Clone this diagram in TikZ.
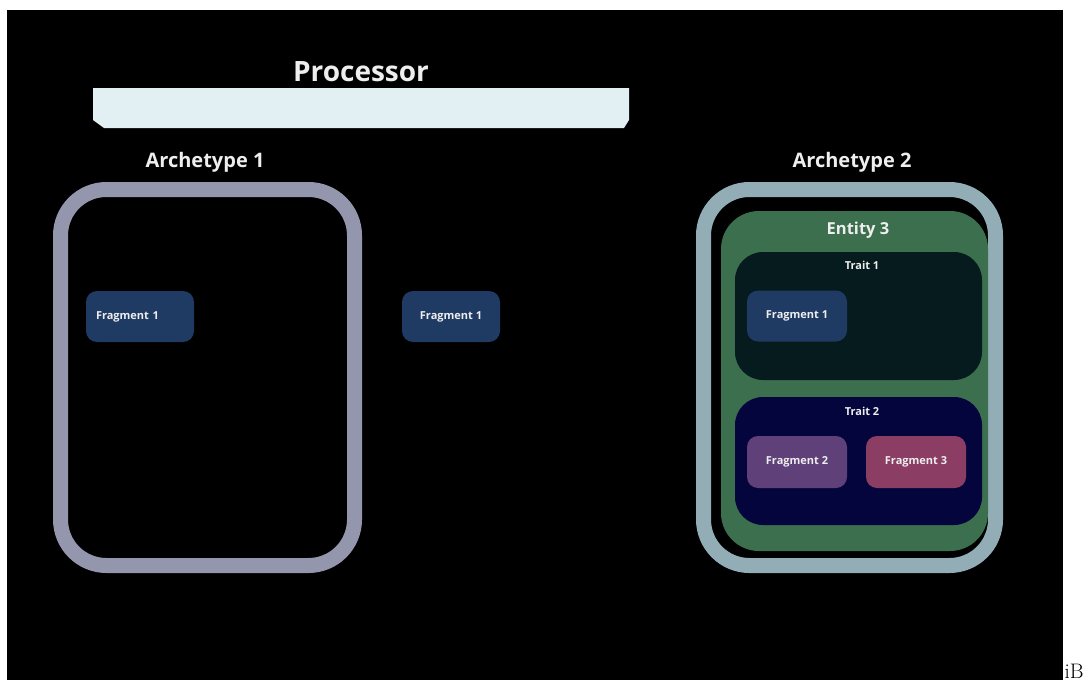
\documentclass[tikz,border=0pt]{standalone}
\usepackage{fontspec}
\setsansfont{Open Sans}
\usetikzlibrary{positioning}

\definecolor{bgblack}{HTML}{000000}
\definecolor{procfill}{HTML}{E2EFF3}
\definecolor{archA}{HTML}{9496AE}
\definecolor{archB}{HTML}{93ADB7}
\definecolor{entgreen}{HTML}{3B6F4E}
\definecolor{traitA}{HTML}{051B1D}
\definecolor{traitB}{HTML}{05053E}
\definecolor{fragblue}{HTML}{1F3B64}
\definecolor{fragpurple}{HTML}{5F4079}
\definecolor{fragrose}{HTML}{8B3D64}
\definecolor{txt}{HTML}{EEEEEE}

\tikzset{
  title/.style={text=txt, font=\sffamily\bfseries\fontsize{28}{31}\selectfont, inner sep=0pt},
  archlabel/.style={text=txt, font=\sffamily\bfseries\fontsize{20}{23}\selectfont, inner sep=0pt},
  entlabel/.style={text=txt, font=\sffamily\bfseries\fontsize{16.5}{19}\selectfont, inner sep=0pt},
  traitlabel/.style={text=txt, font=\sffamily\bfseries\fontsize{11}{13}\selectfont, inner sep=0pt},
  archbox/.style={draw, line width=15pt, rounded corners=46pt, fill=none},
  fragbox/.style={rounded corners=11pt, minimum height=51pt, inner sep=0pt,
    text=txt, font=\sffamily\bfseries\fontsize{11}{13}\selectfont},
}

\begin{document}
\begin{tikzpicture}[x=1pt,y=-1pt]
  \useasboundingbox (0,0) rectangle (1088,680);
  % black backdrop
  \fill[bgblack] (7,10) rectangle (1063,680);

  % processor bar with chamfered lower corners
  \fill[procfill] (93,88) -- (629,88) -- (629,120) -- (624,128) -- (104,128) -- (93,120) -- cycle;
  \node[title] (proc) at (361,72) {Processor};

  % archetype 1
  \draw[archbox, archA] (60.5,189.5) rectangle (354.5,565.5);
  \node[archlabel] (arch1) at (205,162) {Archetype 1};
  \node[fragbox, fill=fragblue, minimum width=108pt, text width=88pt, inner xsep=10pt, align=left]
    (fragA) at (140,316.5) {Fragment 1};

  % loose fragment between the archetypes
  \node[fragbox, fill=fragblue, minimum width=98pt] (fragB) at (451,316.5) {Fragment 1};

  % archetype 2 with entity 3 and its traits
  \draw[archbox, archB] (703.5,189.5) rectangle (995.5,565.5);
  \node[archlabel] (arch2) at (852,162) {Archetype 2};
  \fill[entgreen, rounded corners=38pt] (721,211) rectangle (988,551);
  \node[entlabel] (ent3) at (858,230) {Entity 3};

  \fill[traitA, rounded corners=28pt] (735,252) rectangle (982,380);
  \node[traitlabel] (trait1) at (862,265) {Trait 1};
  \node[fragbox, fill=fragblue, minimum width=100pt] (fragC) at (797,316) {Fragment 1};

  \fill[traitB, rounded corners=28pt] (735,397) rectangle (982,525);
  \node[traitlabel] (trait2) at (862,411) {Trait 2};
  \node[fragbox, fill=fragpurple, minimum width=100pt, minimum height=52pt] (fragD) at (797,462) {Fragment 2};
  \node[fragbox, fill=fragrose, minimum width=100pt, minimum height=52pt] (fragE) at (916,462) {Fragment 3};

  % small mark in the lower right corner
  \node[anchor=base west, inner sep=0pt, font=\fontsize{21}{24}\selectfont] (mark) at (1064.5,678) {iB};
\end{tikzpicture}
\end{document}
